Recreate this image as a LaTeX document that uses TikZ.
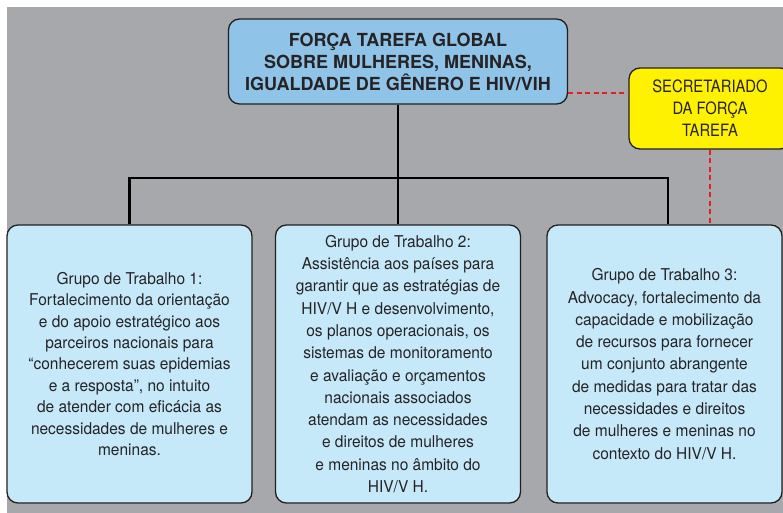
\documentclass[tikz,border=0pt]{standalone}
\usepackage{fontspec}
\setmainfont{TeX Gyre Heros}
\newfontfamily\grupofont{TeX Gyre Heros}[FakeStretch=0.95]
\newfontfamily\secfont{TeX Gyre Heros}[FakeStretch=0.87]
\usepackage{xcolor}
\usepackage{tikz}
\usetikzlibrary{positioning}

\definecolor{fundo}{HTML}{A7A8AB}
\definecolor{azultopo}{HTML}{8FC3E8}
\definecolor{azulgrupo}{HTML}{C6E9F9}
\definecolor{amarelo}{HTML}{FFF200}
\definecolor{borda}{HTML}{231F20}
\definecolor{texto}{HTML}{262324}
\definecolor{vermelho}{HTML}{E31E24}

\begin{document}
\begin{tikzpicture}[x=1pt, y=-1pt,
    caixa/.style={draw=borda, line width=1.3pt, rounded corners=11pt, align=center, text=texto, inner sep=0pt},
    grupo/.style={caixa, fill=azulgrupo, minimum height=278pt, font=\grupofont\fontsize{16.3}{22.3}\selectfont},
    ligacao/.style={draw=black, line width=2.6pt},
    tracejado/.style={draw=vermelho, line width=2.6pt, dash pattern=on 5pt off 3.5pt}]
    % Background
    \useasboundingbox (0,0) rectangle (783,513);
    \fill[white] (0,0) rectangle (783,513);
    \fill[fundo] (7,7) rectangle (783,513);

    % Nodes
    \node[caixa, fill=azultopo, minimum width=339pt, minimum height=85pt, font=\bfseries\fontsize{18}{22}\selectfont] (forca) at (398,61.5) {FORÇA TAREFA GLOBAL\\SOBRE MULHERES, MENINAS,\\IGUALDADE DE GÊNERO E HIV/VIH};
    \node[caixa, fill=amarelo, minimum width=162pt, minimum height=81pt, font=\secfont\fontsize{17}{22}\selectfont] (secretariado) at (710,108.5) {SECRETARIADO\\DA FORÇA\\TAREFA};
    \node[grupo, minimum width=245pt, font=\grupofont\fontsize{16.3}{21.4}\selectfont] (gt1) at (129.5,364) {Grupo de Trabalho 1:\\Fortalecimento da orientação\\e do apoio estratégico aos\\parceiros nacionais para\\“conhecerem suas epidemias\\e a resposta”, no intuito\\de atender com eficácia as\\necessidades de mulheres e\\meninas.};
    \node[grupo, minimum width=245pt] (gt2) at (398,364) {Grupo de Trabalho 2:\\Assistência aos países para\\garantir que as estratégias de\\HIV/V H e desenvolvimento,\\os planos operacionais, os\\sistemas de monitoramento\\e avaliação e orçamentos\\nacionais associados\\atendam as necessidades\\e direitos de mulheres\\e meninas no âmbito do\\HIV/V H.};
    \node[grupo, minimum width=235pt] (gt3) at (664.5,364) {Grupo de Trabalho 3:\\Advocacy, fortalecimento da\\capacidade e mobilização\\de recursos para fornecer\\um conjunto abrangente\\de medidas para tratar das\\necessidades e direitos\\de mulheres e meninas no\\contexto do HIV/V H.};
    \coordinate (barra) at (398,178);

    % Lines
    \draw[ligacao] (forca.south) -- (gt2.north);
    \draw[ligacao] (gt1.north) |- (barra) -| ([xshift=3.5pt]gt3.north);
    \draw[tracejado] ([yshift=-31.5pt]forca.east) -- ([yshift=-31.5pt]forca.east -| secretariado.west);
    \draw[tracejado] (secretariado.south) -- (secretariado.south |- gt3.north);
\end{tikzpicture}
\end{document}
